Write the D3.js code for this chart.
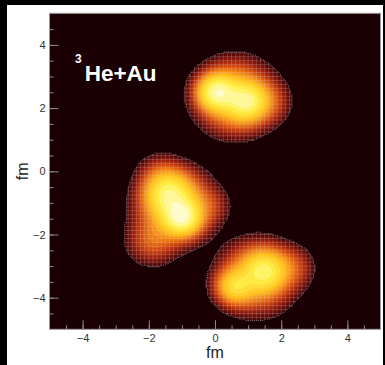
<!DOCTYPE html>
<html>
<head>
<meta charset="utf-8">
<script src="https://cdn.jsdelivr.net/npm/d3@7"></script>
<style>
  html, body { margin: 0; padding: 0; background: #000; }
  svg { display: block; }
  text { font-family: "Liberation Sans", Arial, sans-serif; }
</style>
</head>
<body>
<div id="chart"></div>
<script>
// hot spots of the smeared nucleon density (fm), strengths and widths
const spotX = [0.05, 0.95, 0.6, 1.55, -1.0, -1.4, -1.2, -1.9, -1.7, -0.1, 1.5, 0.6, 1.25, 2.3];
const spotY = [2.5, 2.2, 2.35, 2.2, -1.45, -0.7, -1.1, -2.2, -0.1, -1.1, -3.15, -3.65, -3.35, -3.05];
const spotAmp = [0.85, 0.65, 0.45, 0.12, 0.9, 0.6, 0.45, 0.15, 0.08, 0.06, 0.55, 0.45, 0.35, 0.12];
const spotWidth = [0.33, 0.35, 0.62, 0.42, 0.33, 0.4, 0.62, 0.45, 0.4, 0.35, 0.38, 0.33, 0.62, 0.4];

const xTicks = [-4, -2, 0, 2, 4];
const yTicks = [-4, -2, 0, 2, 4];
const minorTicks = d3.range(-4.5, 5, 0.5);
const xTitle = "fm";
const yTitle = "fm";

const W = 385, H = 365;
const svg = d3.select("#chart").append("svg")
  .attr("width", W).attr("height", H);

// white page inside black border
svg.append("rect").attr("x", 7).attr("y", 5).attr("width", 376).attr("height", 360).attr("fill", "#fff");

const x = d3.scaleLinear().domain([-5, 5]).range([49.5, 380.5]);
const y = d3.scaleLinear().domain([-5, 5]).range([329.3, 13.3]);

// plot background
svg.append("rect")
  .attr("x", x(-5)).attr("y", y(5))
  .attr("width", x(5) - x(-5)).attr("height", y(-5) - y(5))
  .attr("fill", "#1a0003");

// density sampled on a fine grid
const n = 200;
const step = 10 / n;
const values = new Array(n * n);
for (let j = 0; j < n; j++) {
  for (let i = 0; i < n; i++) {
    const cx = -5 + (i + 0.5) * step, cy = 5 - (j + 0.5) * step;
    let v = 0;
    for (let k = 0; k < spotX.length; k++) {
      const dx = cx - spotX[k], dy = cy - spotY[k];
      v += spotAmp[k] * Math.exp(-(dx * dx + dy * dy) / (2 * spotWidth[k] * spotWidth[k]));
    }
    values[j * n + i] = v;
  }
}
const vMax = d3.max(values);
const vMin = vMax * 0.02;
const nLevels = 20;

const level = d3.scaleLog().domain([vMin, vMax]).range([0, 1]).clamp(true);
const lv = values.map(v => v < vMin ? -1 : level(v));
const color = d3.scaleLinear()
  .domain([0, 0.1, 0.25, 0.4, 0.53, 0.65, 0.82, 1])
  .range(["#3a0406", "#5e0a08", "#981c0a", "#d4480c", "#f48614", "#ffc020", "#fff048", "#ffffff"]);

const thresholds = d3.range(0, nLevels).map(i => i / nLevels);
const contours = d3.contours().size([n, n]).thresholds(thresholds)(lv);

const proj = d3.geoTransform({
  point: function(px, py) {
    this.stream.point(x(-5 + px * step), y(5 - py * step));
  }
});
const path = d3.geoPath(proj);

const defs = svg.append("defs");
defs.append("clipPath").attr("id", "plotClip")
  .append("rect")
  .attr("x", x(-5)).attr("y", y(5))
  .attr("width", x(5) - x(-5)).attr("height", y(-5) - y(5));

const plot = svg.append("g").attr("clip-path", "url(#plotClip)");
plot.selectAll("path.band")
  .data(contours)
  .enter().append("path")
  .attr("class", "band")
  .attr("d", path)
  .attr("fill", d => color(d.value));

// mesh over the outer, dimmer part of each blob
const meshLo = contours[0];
const meshHi = contours.find(c => c.value >= 0.65);
const mask = defs.append("mask").attr("id", "meshMask")
  .attr("maskUnits", "userSpaceOnUse")
  .attr("x", 0).attr("y", 0).attr("width", W).attr("height", H);
mask.append("path").attr("d", path(meshLo)).attr("fill", "#fff");
mask.append("path").attr("d", path(meshHi)).attr("fill", "#000");

const meshStep = 0.125;
const meshLines = d3.range(-5, 5 + 1e-9, meshStep);
const mesh = plot.append("g").attr("mask", "url(#meshMask)")
  .attr("stroke", "rgba(225,205,205,0.32)").attr("stroke-width", 0.7);
mesh.selectAll("line.v").data(meshLines).enter().append("line")
  .attr("x1", d => x(d)).attr("x2", d => x(d))
  .attr("y1", y(5)).attr("y2", y(-5));
mesh.selectAll("line.h").data(meshLines).enter().append("line")
  .attr("y1", d => y(d)).attr("y2", d => y(d))
  .attr("x1", x(-5)).attr("x2", x(5));

// dotted outline of the outermost contour
plot.append("path")
  .attr("d", path(meshLo))
  .attr("fill", "none")
  .attr("stroke", "rgba(200,180,180,0.7)")
  .attr("stroke-width", 0.8)
  .attr("stroke-dasharray", "1,1");

// frame
svg.append("rect")
  .attr("x", x(-5)).attr("y", y(5))
  .attr("width", x(5) - x(-5)).attr("height", y(-5) - y(5))
  .attr("fill", "none").attr("stroke", "#999").attr("stroke-width", 1);

// axes, ticks pointing into the plot
const xAxis = svg.append("g").attr("transform", `translate(0,${y(-5)})`)
  .call(d3.axisBottom(x).tickValues(xTicks).tickSizeInner(-9).tickSizeOuter(0).tickPadding(5));
const xMinor = svg.append("g").attr("transform", `translate(0,${y(-5)})`)
  .call(d3.axisBottom(x).tickValues(minorTicks).tickSizeInner(-4).tickSizeOuter(0).tickFormat(""));
const yAxis = svg.append("g").attr("transform", `translate(${x(-5)},0)`)
  .call(d3.axisLeft(y).tickValues(yTicks).tickSizeInner(-9).tickSizeOuter(0).tickPadding(4));
const yMinor = svg.append("g").attr("transform", `translate(${x(-5)},0)`)
  .call(d3.axisLeft(y).tickValues(minorTicks).tickSizeInner(-4).tickSizeOuter(0).tickFormat(""));

[xAxis, xMinor, yAxis, yMinor].forEach(a => {
  a.select(".domain").remove();
  a.selectAll("line").attr("stroke", "#8a8a8a");
  a.selectAll("text")
    .style("font-family", "Liberation Sans, Arial, sans-serif")
    .style("font-size", "11px")
    .attr("fill", "#333");
});

// axis titles
svg.append("text")
  .attr("x", x(0)).attr("y", 358)
  .attr("text-anchor", "middle")
  .style("font-size", "16px").attr("fill", "#222")
  .text(xTitle);
svg.append("text")
  .attr("transform", `translate(28,${y(0)}) rotate(-90)`)
  .attr("text-anchor", "middle")
  .style("font-size", "16px").attr("fill", "#222")
  .text(yTitle);

// system label
const lab = svg.append("text").attr("x", 75).attr("y", 81)
  .attr("fill", "#fff").style("font-weight", "bold");
lab.append("tspan").style("font-size", "12px").attr("dy", -18).text("3");
lab.append("tspan").style("font-size", "22.5px").attr("dy", 18).attr("dx", 3).text("He+Au");
</script>
</body>
</html>
